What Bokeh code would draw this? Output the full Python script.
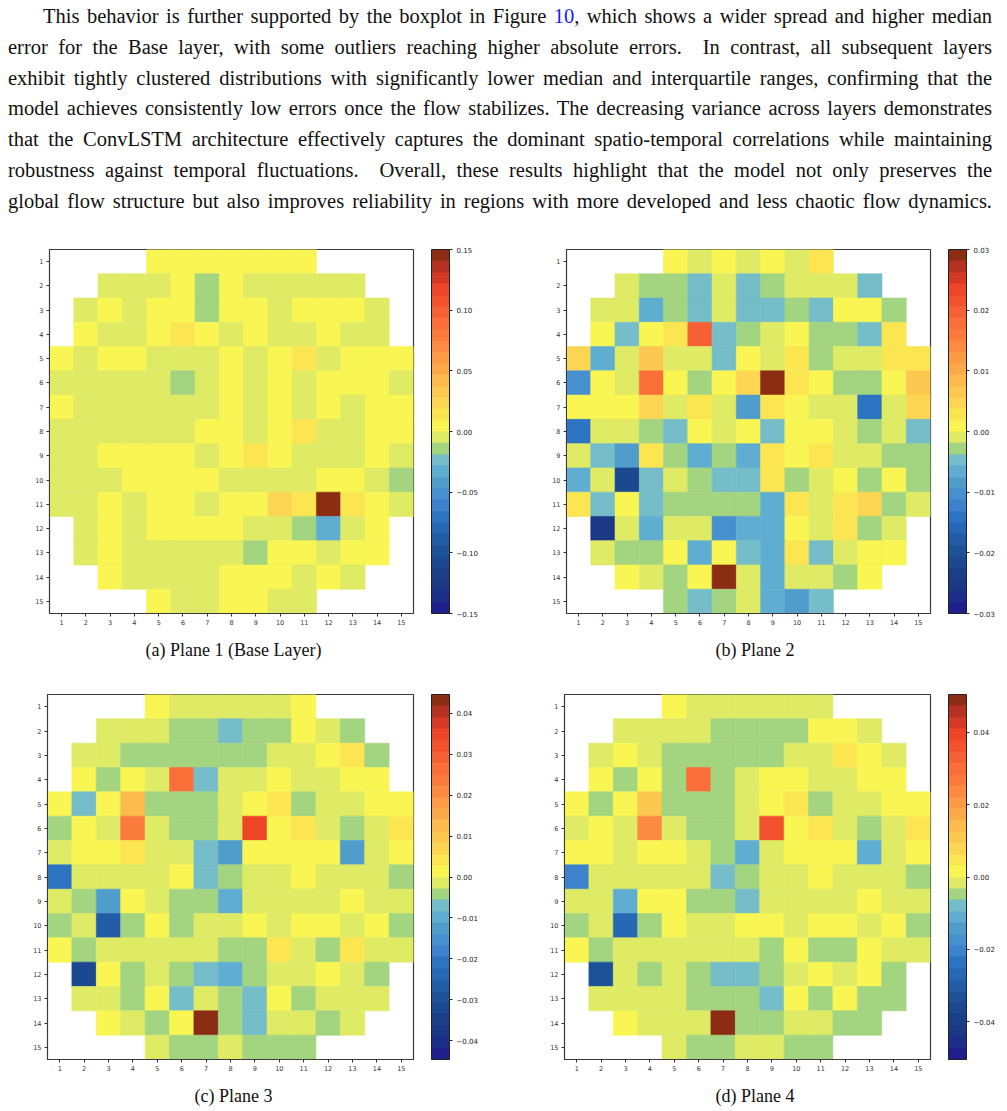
from bokeh.plotting import figure
from bokeh.models import (LinearColorMapper, ColorBar, FixedTicker, Range1d,
                          ColumnDataSource, Div, CustomJSTickFormatter, AllLabels)
from bokeh.layouts import column, row
from bokeh.embed import file_html
from bokeh.resources import INLINE

N = None

# ---------------- data ----------------
text_lines = [
    "This behavior is further supported by the boxplot in Figure {LINK}, which shows a wider spread and higher median",
    "error for the Base layer, with some outliers reaching higher absolute errors.&nbsp; In contrast, all subsequent layers",
    "exhibit tightly clustered distributions with significantly lower median and interquartile ranges, confirming that the",
    "model achieves consistently low errors once the flow stabilizes. The decreasing variance across layers demonstrates",
    "that the ConvLSTM architecture effectively captures the dominant spatio-temporal correlations while maintaining",
    "robustness against temporal fluctuations.&nbsp; Overall, these results highlight that the model not only preserves the",
    "global flow structure but also improves reliability in regions with more developed and less chaotic flow dynamics.",
]
figure_ref = "10"

captions = ["(a) Plane 1 (Base Layer)", "(b) Plane 2", "(c) Plane 3", "(d) Plane 4"]
tick_labels = list(range(1, 16))

# palette listed from the top of the colour bar (high) to the bottom (low)
palette_top_down = [
    "#8A2D12", "#B53222", "#D53A25", "#EE4427", "#F2522E", "#F66035", "#FA6E38", "#FB7B3C",
    "#FC8A40", "#FC9A45", "#FCAA49", "#FDBA4D", "#FCC850", "#FCD653", "#FBE651", "#F9F552",
    "#DFEA65", "#A3D47F", "#75BDC8", "#5FAED2", "#509DCC", "#4690D0", "#3C82CC", "#2C73C2",
    "#2768B6", "#215CA6", "#1D5299", "#1B488E", "#1B3F87", "#1B3886", "#1C2E87", "#1E1F8A",
]
palette = palette_top_down[::-1]

vmax_values = [0.15, 0.03, 0.0446, 0.0505]
cbar_ticks = [
    [0.15, 0.10, 0.05, 0.0, -0.05, -0.10, -0.15],
    [0.03, 0.02, 0.01, 0.0, -0.01, -0.02, -0.03],
    [0.04, 0.03, 0.02, 0.01, 0.0, -0.01, -0.02, -0.03, -0.04],
    [0.04, 0.02, 0.0, -0.02, -0.04],
]

plane1 = [
    [N, N, N, N, .004, .004, .004, .004, .004, .004, .004, N, N, N, N],
    [N, N, -.004, -.004, -.004, .004, -.014, .004, -.004, -.004, -.004, -.004, -.004, N, N],
    [N, -.004, .004, -.004, .004, .004, -.014, .004, .004, -.004, .004, .004, .004, -.004, N],
    [N, .004, -.004, -.004, .004, .013, .004, -.004, .004, -.004, -.004, .004, -.004, -.004, N],
    [.004, -.004, .004, .004, -.004, -.004, -.004, .004, -.004, .004, .013, -.004, .004, .004, .004],
    [-.004, -.004, -.004, -.004, -.004, -.014, -.004, .004, -.004, .004, -.004, .004, .004, .004, -.004],
    [.004, -.004, -.004, -.004, -.004, -.004, -.004, .004, -.004, .004, -.004, .004, -.004, .004, .004],
    [-.004, -.004, -.004, -.004, -.004, -.004, .004, .004, -.004, .004, .013, -.004, -.004, .004, .004],
    [-.004, -.004, .004, .004, .004, .004, -.004, .004, .013, .004, -.004, -.004, -.004, .004, -.004],
    [-.004, -.004, -.004, .004, .004, .004, .004, -.004, -.004, -.004, -.004, .004, .004, -.004, -.014],
    [-.004, -.004, .004, -.004, .004, .004, -.004, .004, .004, .022, .013, .146, .013, .004, -.004],
    [N, -.004, .004, -.004, .004, .004, .004, .004, -.004, -.004, -.014, -.033, -.004, .004, N],
    [N, -.004, .004, -.004, -.004, -.004, -.004, -.004, -.014, .004, .004, -.004, .004, .004, N],
    [N, N, .004, -.004, -.004, -.004, -.004, .004, .004, .004, -.004, .004, -.004, N, N],
    [N, N, N, N, .004, -.004, -.004, .004, .004, -.004, -.004, N, N, N, N],
]

plane2 = [
    [N, N, N, N, .001, -.001, .001, -.001, .001, -.001, .0028, N, N, N, N],
    [N, N, -.001, -.0028, -.0028, -.0047, -.001, -.0047, -.0028, -.001, -.001, -.001, -.0047, N, N],
    [N, -.001, -.001, -.0065, -.0028, -.0047, -.001, -.0047, -.0047, -.0028, -.0047, .001, .001, -.0028, N],
    [N, .001, -.0047, .001, .0028, .0197, -.0047, -.0028, -.001, .001, -.0028, -.0028, -.0047, .0028, N],
    [.0047, -.0065, -.001, .0065, -.001, -.001, -.0047, .001, -.001, .0028, -.0028, -.001, -.001, .0028, .0028],
    [-.0103, .001, -.001, .0178, .001, -.0028, .001, .0047, .0295, .0028, .001, -.0028, -.0028, .001, .0065],
    [.001, .001, .001, .0047, -.001, .0028, -.001, -.0084, .0028, .001, -.001, -.001, -.014, -.001, .0047],
    [-.014, -.001, -.001, -.0028, -.0047, .001, -.001, .001, -.0047, .001, .001, -.001, -.0028, -.001, -.0047],
    [-.001, -.0047, -.0084, .0028, -.0028, -.0065, -.0028, -.0065, .0028, .001, .0028, -.001, -.001, -.0028, -.0028],
    [-.0065, -.001, -.0215, -.0047, -.001, -.0028, -.0047, -.0047, .0028, -.0028, -.001, .001, -.0028, .001, -.0028],
    [.0028, -.0047, .001, -.0047, -.0028, -.0028, -.0028, -.0028, -.0065, .0028, -.001, .0028, .0047, -.0028, -.001],
    [N, -.0253, -.001, -.0065, -.001, -.001, -.0103, -.0065, -.0065, .001, -.001, .0028, -.0028, -.001, N],
    [N, -.001, -.0028, -.0028, .001, -.0065, .001, -.0047, -.0065, .0028, -.0047, -.001, .001, .001, N],
    [N, N, .001, -.001, -.0028, .001, .0295, -.001, -.0065, -.001, -.001, -.0028, .001, N, N],
    [N, N, N, N, -.0028, -.0047, -.0028, -.001, -.0065, -.0084, -.0047, N, N, N, N],
]

plane3 = [
    [N, N, N, N, .0014, -.0014, -.0014, -.0014, -.0014, -.0014, .0014, N, N, N, N],
    [N, N, -.0014, -.0014, -.0014, -.0042, -.0042, -.007, -.0042, -.0042, .0014, -.0014, -.0042, N, N],
    [N, -.0014, -.0014, -.0042, -.0042, -.0042, -.0042, -.0042, -.0042, -.0014, -.0014, .0014, .0042, -.0042, N],
    [N, .0014, -.0042, .0014, -.0014, .0265, -.007, -.0014, -.0014, .0014, -.0014, -.0014, .0014, .0014, N],
    [.0014, -.007, .0014, .0125, -.0042, -.0042, -.0042, -.0014, .0014, .0042, -.0042, -.0014, -.0014, .0014, .0014],
    [-.0042, .0014, -.0014, .0237, -.0014, -.0042, -.0042, -.0014, .0348, .0014, .0042, -.0014, -.0042, -.0014, .0042],
    [-.0014, .0014, .0014, .0042, -.0014, -.0014, -.007, -.0125, .0014, .0014, .0014, .0014, -.0125, -.0014, .0014],
    [-.0209, -.0014, -.0014, -.0014, -.0014, .0014, -.007, -.0042, -.0014, -.0014, .0014, -.0014, -.0014, -.0014, -.0042],
    [-.0014, -.0042, -.0125, .0014, -.0014, -.0042, -.0042, -.0098, -.0014, -.0014, -.0014, -.0014, .0014, -.0014, -.0014],
    [-.0042, -.0014, -.0265, -.0042, .0014, -.0042, -.0014, -.0014, .0014, -.0014, .0014, .0014, -.0014, .0014, -.0042],
    [.0014, -.0042, -.0014, -.0014, -.0014, -.0014, -.0014, -.0042, -.0042, .0042, -.0014, -.0042, .0042, -.0014, -.0014],
    [N, -.0321, .0014, -.0042, -.0014, -.0042, -.007, -.0098, -.0042, -.0014, -.0014, .0014, -.0014, -.0042, N],
    [N, -.0014, -.0014, -.0042, .0014, -.007, -.0014, -.0042, -.007, .0014, -.0042, -.0014, -.0014, -.0014, N],
    [N, N, .0014, -.0014, -.0042, .0014, .0432, -.0042, -.007, -.0014, -.0014, -.0042, -.0014, N, N],
    [N, N, N, N, -.0014, -.0042, -.0042, -.0014, -.0042, -.0042, -.0042, N, N, N, N],
]

plane4 = [
    [N, N, N, N, .0016, -.0016, -.0016, -.0016, -.0016, -.0016, -.0016, N, N, N, N],
    [N, N, -.0016, -.0016, -.0016, -.0016, -.0047, -.0047, -.0047, -.0047, .0016, .0016, -.0016, N, N],
    [N, -.0016, .0016, -.0016, -.0047, -.0047, -.0047, -.0047, -.0047, -.0016, -.0016, .0047, .0016, -.0016, N],
    [N, .0016, -.0047, .0016, -.0047, .030, -.0047, -.0016, .0016, .0016, -.0016, -.0016, .0016, .0016, N],
    [.0016, -.0047, .0016, .0110, -.0047, -.0047, -.0047, -.0016, .0016, .0047, -.0047, -.0016, -.0016, .0016, .0016],
    [-.0016, .0016, -.0016, .0237, -.0016, -.0047, -.0047, -.0016, .0363, .0016, .0047, -.0016, -.0047, -.0016, .0047],
    [.0016, .0016, -.0016, .0016, .0016, -.0016, -.0047, -.0110, -.0016, .0016, .0016, .0016, -.0110, -.0016, .0016],
    [-.0205, -.0016, -.0016, -.0016, -.0016, -.0016, -.0079, -.0047, -.0016, -.0016, .0016, -.0016, -.0016, -.0016, -.0047],
    [-.0016, -.0016, -.0110, .0016, .0016, -.0047, -.0047, -.0079, -.0016, -.0016, -.0016, -.0016, .0016, -.0016, -.0016],
    [-.0047, -.0016, -.0268, -.0047, .0016, -.0016, -.0016, .0016, .0016, -.0016, .0016, .0016, -.0016, .0016, -.0047],
    [.0016, -.0047, -.0016, -.0016, -.0016, -.0016, -.0016, -.0016, -.0047, .0016, -.0047, -.0047, .0016, -.0016, -.0016],
    [N, -.0331, -.0016, -.0047, -.0016, -.0047, -.0079, -.0079, -.0047, -.0016, .0016, -.0016, .0016, -.0047, N],
    [N, -.0016, -.0016, -.0016, -.0016, -.0047, -.0047, -.0047, -.0079, .0016, -.0047, .0016, -.0047, -.0047, N],
    [N, N, .0016, -.0016, -.0016, -.0016, .0489, -.0047, -.0047, -.0016, -.0016, -.0047, -.0047, N, N],
    [N, N, N, N, -.0016, -.0047, -.0047, -.0016, -.0016, -.0047, -.0047, N, N, N, N],
]

planes = [plane1, plane2, plane3, plane4]

# ---------------- drawing ----------------
TICK_FONT = "DejaVu Sans"
SERIF = "Liberation Serif"

fmt = CustomJSTickFormatter(code="""
    const s = Math.abs(tick).toFixed(2);
    return (tick < -1e-12 ? '\\u2212' : '') + s;
""")


def heatmap(grid, vmax, ticks, left, right, top, bottom, fw, fh):
    xs, ys, vs = [], [], []
    for ri, rvals in enumerate(grid):
        for ci, v in enumerate(rvals):
            if v is not None:
                xs.append(ci + 1)
                ys.append(ri + 1)
                vs.append(v)
    src = ColumnDataSource(dict(x=xs, y=ys, v=vs))
    mapper = LinearColorMapper(palette=palette, low=-vmax, high=vmax)
    p = figure(frame_width=fw, frame_height=fh,
               x_range=Range1d(0.5, 15.5), y_range=Range1d(15.5, 0.5),
               output_backend="svg", toolbar_location=None,
               min_border_left=left, min_border_right=right,
               min_border_top=top, min_border_bottom=bottom,
               background_fill_color="white", border_fill_color="white")
    p.rect("x", "y", 1, 1, source=src,
           fill_color={"field": "v", "transform": mapper},
           line_color={"field": "v", "transform": mapper}, line_width=0.6)
    p.grid.visible = False
    p.outline_line_color = "#3a3a3a"
    p.outline_line_width = 1.2
    for ax in (p.xaxis[0], p.yaxis[0]):
        ax.ticker = FixedTicker(ticks=tick_labels)
        ax.major_label_text_font = TICK_FONT
        ax.major_label_text_font_size = "6.5px"
        ax.major_label_text_color = "#333333"
        ax.major_tick_out = 3
        ax.major_tick_in = 0
        ax.minor_tick_line_color = None
        ax.major_tick_line_color = "#333333"
        ax.axis_line_color = "#3a3a3a"
        ax.major_label_standoff = 3
    cb = ColorBar(color_mapper=mapper, ticker=FixedTicker(ticks=ticks),
                  formatter=fmt, major_label_policy=AllLabels(),
                  width=18, margin=0, padding=0,
                  location=(18, 0),
                  bar_line_color="#222222", major_tick_line_color="#222222",
                  major_tick_out=3, major_tick_in=0, label_standoff=4,
                  minor_tick_line_color=None,
                  major_label_text_font=TICK_FONT,
                  major_label_text_font_size="7px",
                  major_label_text_color="#222222",
                  background_fill_color=None)
    p.add_layout(cb, "right")
    return p


def caption(txt, w, h, lh, pt, pl, pr):
    return Div(text=f'<div style="width:{w - pl - pr}px;padding-left:{pl}px;padding-right:{pr}px;'
                    f'text-align:center;font-family:\'{SERIF}\';'
                    f'font-size:18px;color:#111;line-height:{lh}px;padding-top:{pt}px;">{txt}</div>',
               width=w, height=h, margin=0)


pa = heatmap(plane1, vmax_values[0], cbar_ticks[0], 49, 90, 9, 19, 364, 364)
pb = heatmap(plane2, vmax_values[1], cbar_ticks[1], 63, 77, 9, 19, 364, 364)
pc = heatmap(plane3, vmax_values[2], cbar_ticks[2], 47, 90, 14, 19, 366, 365)
pd = heatmap(plane4, vmax_values[3], cbar_ticks[3], 61, 77, 14, 19, 366, 365)

link = f'<span style="color:#1a1aff">{figure_ref}</span>'
html_lines = []
for i, ln in enumerate(text_lines):
    ln = ln.replace("{LINK}", link)
    indent = "text-indent:35px;" if i == 0 else ""
    html_lines.append(
        f'<div style="height:30.8px;line-height:30.8px;text-align:justify;'
        f'text-align-last:justify;overflow:hidden;white-space:normal;{indent}">{ln}</div>')
para = Div(text=(f'<div style="width:992px;padding-left:8px;padding-top:1px;'
                 f'font-family:\'{SERIF}\';font-size:20.5px;color:#111;">'
                 + "".join(html_lines) + "</div>"),
           width=1007, height=240, margin=0)

layout = column(
    para,
    row(pa, pb, spacing=0),
    row(caption(captions[0], 503, 48, 36, 0, 0, 18), caption(captions[1], 504, 48, 36, 0, 16, 0), spacing=0),
    row(pc, pd, spacing=0),
    row(caption(captions[2], 503, 33, 32, 2, 0, 18), caption(captions[3], 504, 33, 32, 2, 16, 0), spacing=0),
    spacing=0,
)

open("out.html", "w").write(file_html(layout, INLINE))
